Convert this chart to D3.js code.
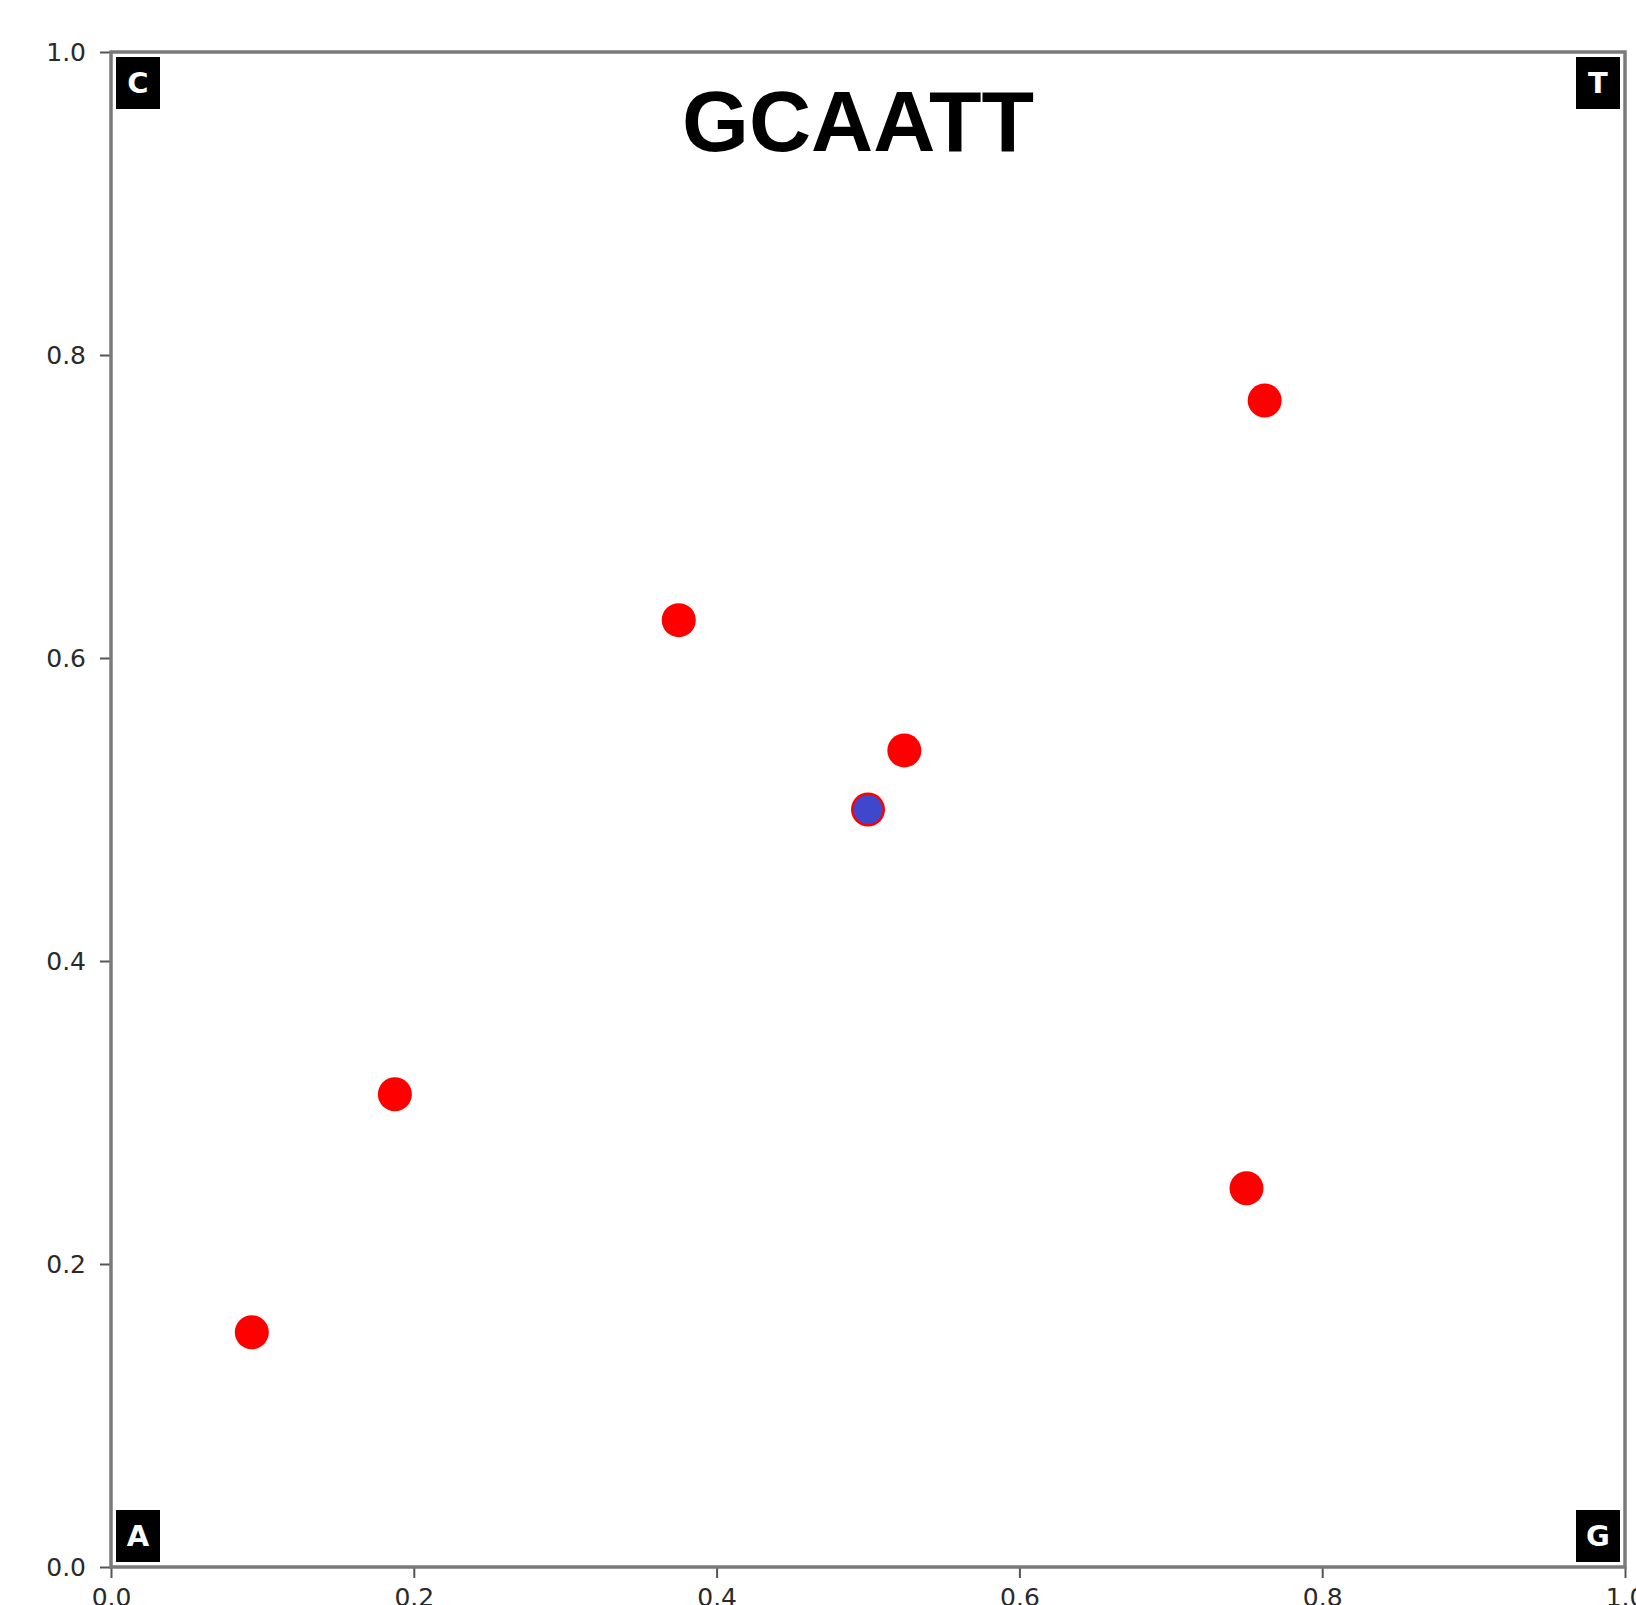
<!DOCTYPE html>
<html>
<head>
<meta charset="utf-8">
<script src="https://cdn.jsdelivr.net/npm/d3@7"></script>
<style>
  html, body { margin: 0; padding: 0; background: #fff; }
  svg { display: block; }
</style>
</head>
<body>
<script>
// Chaos-game representation of the sequence "GCAATT"
const titleText = "GCAATT";
const pointX = [0.5, 0.75, 0.375, 0.1875, 0.093, 0.524, 0.762];
const pointY = [0.5, 0.25, 0.625, 0.312, 0.155, 0.539, 0.770];
const startX = [0.5];
const startY = [0.5];
const cornerLabels = ["C", "T", "A", "G"];
const cornerX = [0, 1, 0, 1];
const cornerY = [1, 1, 0, 0];
const xTicks = [0.0, 0.2, 0.4, 0.6, 0.8, 1.0];
const yTicks = [0.0, 0.2, 0.4, 0.6, 0.8, 1.0];

const W = 1636, H = 1605;
const mLeft = 111, mRight = 1625, mTop = 52, mBottom = 1567;

const svg = d3.select("body").append("svg")
  .attr("width", W).attr("height", H);

const x = d3.scaleLinear().domain([0, 1]).range([mLeft, mRight]);
const y = d3.scaleLinear().domain([0, 1]).range([mBottom, mTop]);

// axes
const xAxis = d3.axisBottom(x).tickValues(xTicks).tickFormat(d3.format(".1f"))
  .tickSize(11).tickPadding(10);
const yAxis = d3.axisLeft(y).tickValues(yTicks).tickFormat(d3.format(".1f"))
  .tickSize(11).tickPadding(14);

const gx = svg.append("g").attr("transform", `translate(0,${mBottom})`).call(xAxis);
const gy = svg.append("g").attr("transform", `translate(${mLeft},0)`).call(yAxis);
[gx, gy].forEach(g => {
  g.select(".domain").remove();
  g.selectAll(".tick line").attr("stroke", "#555").attr("stroke-width", 2);
  g.selectAll(".tick text")
    .attr("font-family", "DejaVu Sans")
    .attr("font-size", 25)
    .attr("fill", "#2a2a2a");
});
gx.selectAll(".tick text").attr("dy", "0.71em");

// frame
svg.append("rect")
  .attr("x", mLeft).attr("y", mTop)
  .attr("width", mRight - mLeft).attr("height", mBottom - mTop)
  .attr("fill", "none").attr("stroke", "#7a7a7a").attr("stroke-width", 3.5);

// corner boxes
const boxW = 44, boxH = 52, inset = 5;
const corners = svg.append("g").selectAll("g")
  .data(cornerLabels.map((l, i) => ({ l, cx: cornerX[i], cy: cornerY[i] })))
  .join("g")
  .attr("transform", d => {
    const px = d.cx === 0 ? x(d.cx) + inset : x(d.cx) - inset - boxW;
    const py = d.cy === 1 ? y(d.cy) + inset : y(d.cy) - inset - boxH;
    return `translate(${px},${py})`;
  });
corners.append("rect").attr("width", boxW).attr("height", boxH).attr("fill", "#000");
corners.append("text")
  .attr("x", boxW / 2).attr("y", boxH / 2)
  .attr("dy", "0.36em")
  .attr("text-anchor", "middle")
  .attr("font-family", "DejaVu Sans")
  .attr("font-weight", "bold")
  .attr("font-size", 29)
  .attr("fill", "#fff")
  .text(d => d.l);

// title
svg.append("text")
  .attr("x", 858).attr("y", 151)
  .attr("text-anchor", "middle")
  .attr("font-family", "Liberation Sans, Arial, sans-serif")
  .attr("font-weight", "bold")
  .attr("font-size", 86)
  .attr("fill", "#000")
  .text(titleText);

// points
svg.append("g").selectAll("circle")
  .data(pointX.map((v, i) => [v, pointY[i]]))
  .join("circle")
  .attr("cx", d => x(d[0])).attr("cy", d => y(d[1]))
  .attr("r", 17).attr("fill", "#ff0000");

svg.append("g").selectAll("circle")
  .data(startX.map((v, i) => [v, startY[i]]))
  .join("circle")
  .attr("cx", d => x(d[0])).attr("cy", d => y(d[1]))
  .attr("r", 14.5).attr("fill", "#3f48cc");
</script>
</body>
</html>
